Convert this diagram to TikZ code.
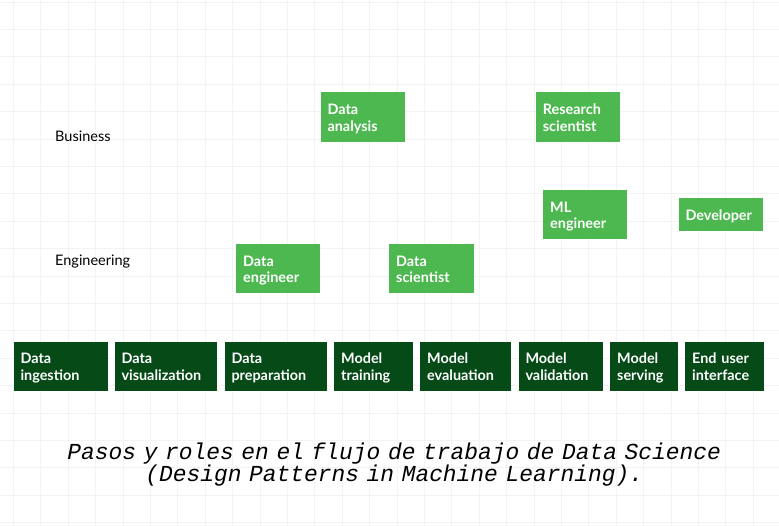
\documentclass[tikz,border=0pt]{standalone}
\usepackage{fontspec}
\usepackage{xcolor}
\usepackage{tikz}
\newfontfamily\latofont{Lato}
\newfontfamily\capfont{Liberation Mono}

\definecolor{stepgreen}{RGB}{6,74,24}
\definecolor{rolegreen}{RGB}{78,184,80}
\definecolor{gridgray}{RGB}{243,243,243}

\begin{document}
\begin{tikzpicture}[
  x=1pt, y=-1pt,
  line cap=round,
  every node/.style={inner sep=0pt},
  stepbox/.style={fill=stepgreen, text=white, anchor=north west, align=left,
    inner xsep=7pt, inner ysep=0pt, text height=22pt, text depth=27.3pt,
    font=\latofont\bfseries\fontsize{14.4}{16.8}\selectfont},
  rolebox/.style={stepbox, fill=rolegreen},
  lanelabel/.style={anchor=base west, font=\latofont\fontsize{14.5}{17}\selectfont}
]
  \useasboundingbox (0,0) rectangle (779,526);
  \fill[white] (0,0) rectangle (779,526);

  % Background grid
  \foreach \k in {0,...,28}
    \draw[gridgray, line width=0.6pt] (13.3+27.4*\k,0) -- (13.3+27.4*\k,526);
  \foreach \k in {0,...,19}
    \draw[gridgray, line width=0.6pt] (0,1.9+27.4*\k) -- (779,1.9+27.4*\k);

  % Lanes
  \node[lanelabel] (business) at (55,141.7) {Business};
  \node[lanelabel] (engineering) at (55,265.7) {Engineering};

  % Workflow steps
  \node[stepbox, text width=80pt]   (ingest) at (13.3,341.7)  {Data\\ingestion};
  \node[stepbox, text width=88.4pt] (visual) at (114.3,341.7) {Data\\visualization};
  \node[stepbox, text width=88.4pt] (prep)   at (224.3,341.7) {Data\\preparation};
  \node[stepbox, text width=64.7pt] (train)  at (334,341.7)   {Model\\training};
  \node[stepbox, text width=76.7pt] (eval)   at (420,341.7)   {Model\\evaluation};
  \node[stepbox, text width=70pt]   (valid)  at (518.3,341.7) {Model\\validation};
  \node[stepbox, text width=53.7pt] (serve)  at (610,341.7)   {Model\\serving};
  \node[stepbox, text width=65pt]   (ui)     at (685,341.7)   {End user\\interface};

  % Roles
  \node[rolebox, text width=70pt]   (analysis) at (320.3,92.3) {Data\\analysis};
  \node[rolebox, text width=70.3pt] (research) at (535.7,92.3) {Research\\scientist};
  \node[rolebox, text width=69.7pt] (mleng)    at (543,190)    {ML\\engineer};
  \node[rolebox, text width=70pt]   (dataeng)  at (236,244)    {Data\\engineer};
  \node[rolebox, text width=70.3pt] (datasci)  at (389,244)    {Data\\scientist};
  \node[rolebox, text width=70pt, text height=21.6pt, text depth=11.1pt]
    (developer) at (678.3,198.3) {Developer};

  % Caption
  \node[anchor=base, text width=760pt, align=center,
    font=\capfont\itshape\fontsize{22.9}{22.7}\selectfont] (caption) at (394.2,459)
    {Pasos y roles en el flujo de trabajo de Data Science\\(Design Patterns in Machine Learning).};
\end{tikzpicture}
\end{document}
